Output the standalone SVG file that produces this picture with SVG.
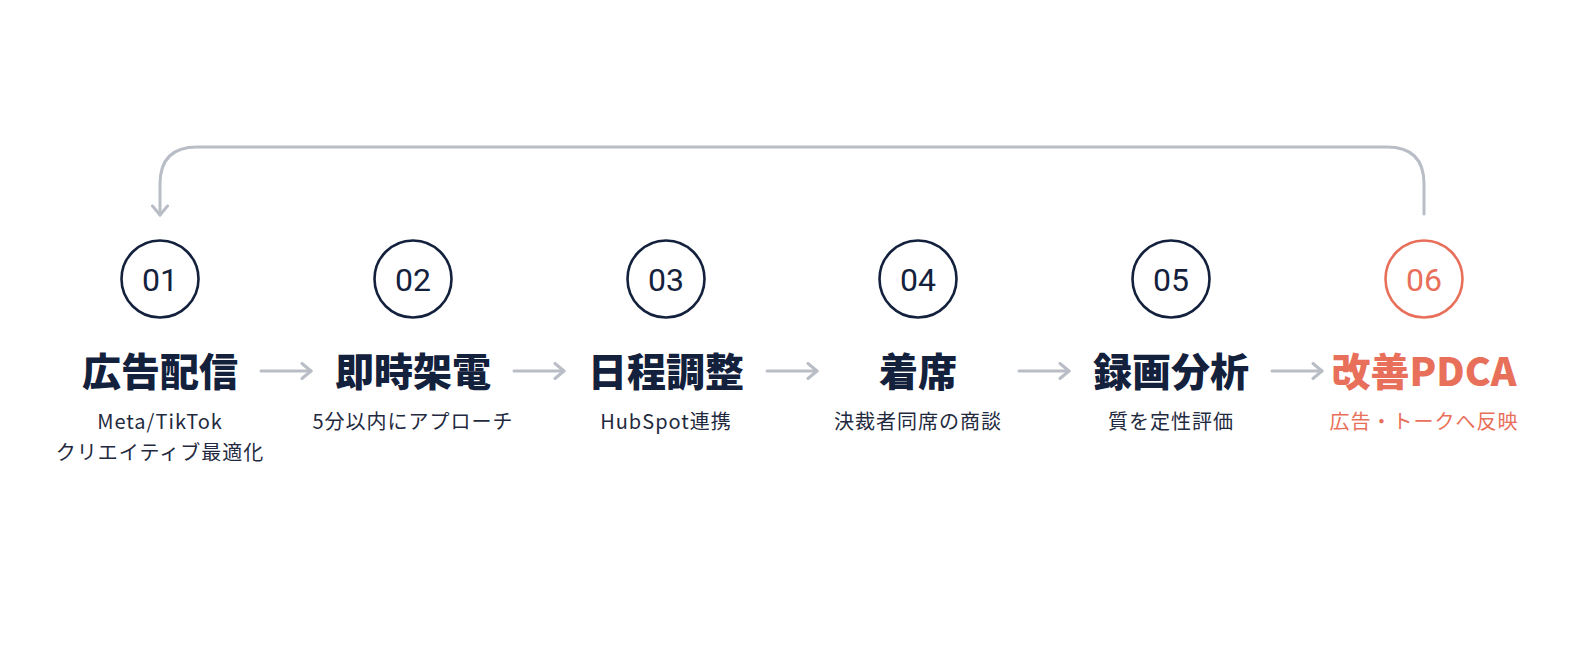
<svg xmlns="http://www.w3.org/2000/svg" width="1584" height="672" viewBox="0 0 1584 672">
<defs>
<style>
.bg{fill:#ffffff}
.ring{fill:none;stroke:#13213d;stroke-width:2.6}
.ring.acc{stroke:#e8705a}
.num{font-family:Roboto,"Noto Sans",sans-serif;font-size:32px;fill:#13213d;text-anchor:middle}
.num.acc{fill:#e8705a}
.ttl{font-family:"Noto Sans CJK JP",sans-serif;font-weight:900;font-size:39px;fill:#13213d;text-anchor:middle}
.ttl.acc{fill:#e8705a}
.sub{font-family:"Noto Sans CJK JP",sans-serif;font-weight:400;font-size:20px;letter-spacing:1px;fill:#1f2a40;text-anchor:middle}
.sub.acc{fill:#e8705a}
.conn{fill:none;stroke:#b9bdc6;stroke-width:3;stroke-linecap:round;stroke-linejoin:round}
</style>
<marker id="ah" viewBox="0 0 18 18" refX="15" refY="9" markerWidth="18" markerHeight="18" markerUnits="userSpaceOnUse" orient="auto">
<path d="M6 1.5 L15 9 L6 16.5" fill="none" stroke="#b9bdc6" stroke-width="3" stroke-linecap="round" stroke-linejoin="round"/>
</marker>
</defs>
<rect class="bg" x="0" y="0" width="1584" height="672"/>
<g id="connectors">
<path class="conn" d="M1424 214 V184 Q1424 147 1387 147 H197 Q160 147 160 184 V215" marker-end="url(#ah)"/>
<path class="conn" d="M261 371 H311" marker-end="url(#ah)"/>
<path class="conn" d="M514 371 H564" marker-end="url(#ah)"/>
<path class="conn" d="M767 371 H817" marker-end="url(#ah)"/>
<path class="conn" d="M1019 371 H1069" marker-end="url(#ah)"/>
<path class="conn" d="M1272 371 H1322" marker-end="url(#ah)"/>
</g>
<g id="step01">
<circle class="ring" cx="160" cy="279" r="38.5"/>
<text class="num" x="160" y="290.5">01</text>
<text class="ttl" x="160" y="386">広告配信</text>
<text class="sub" x="160" y="429">Meta/TikTok</text>
<text class="sub" x="160" y="460">クリエイティブ最適化</text>
</g>
<g id="step02">
<circle class="ring" cx="413" cy="279" r="38.5"/>
<text class="num" x="413" y="290.5">02</text>
<text class="ttl" x="413" y="386">即時架電</text>
<text class="sub" x="413" y="429">5分以内にアプローチ</text>
</g>
<g id="step03">
<circle class="ring" cx="666" cy="279" r="38.5"/>
<text class="num" x="666" y="290.5">03</text>
<text class="ttl" x="666" y="386">日程調整</text>
<text class="sub" x="666" y="429">HubSpot連携</text>
</g>
<g id="step04">
<circle class="ring" cx="918" cy="279" r="38.5"/>
<text class="num" x="918" y="290.5">04</text>
<text class="ttl" x="918" y="386">着席</text>
<text class="sub" x="918" y="429">決裁者同席の商談</text>
</g>
<g id="step05">
<circle class="ring" cx="1171" cy="279" r="38.5"/>
<text class="num" x="1171" y="290.5">05</text>
<text class="ttl" x="1171" y="386">録画分析</text>
<text class="sub" x="1171" y="429">質を定性評価</text>
</g>
<g id="step06">
<circle class="ring acc" cx="1424" cy="279" r="38.5"/>
<text class="num acc" x="1424" y="290.5">06</text>
<text class="ttl acc" x="1424" y="386">改善PDCA</text>
<text class="sub acc" x="1424" y="429">広告・トークへ反映</text>
</g>
</svg>
